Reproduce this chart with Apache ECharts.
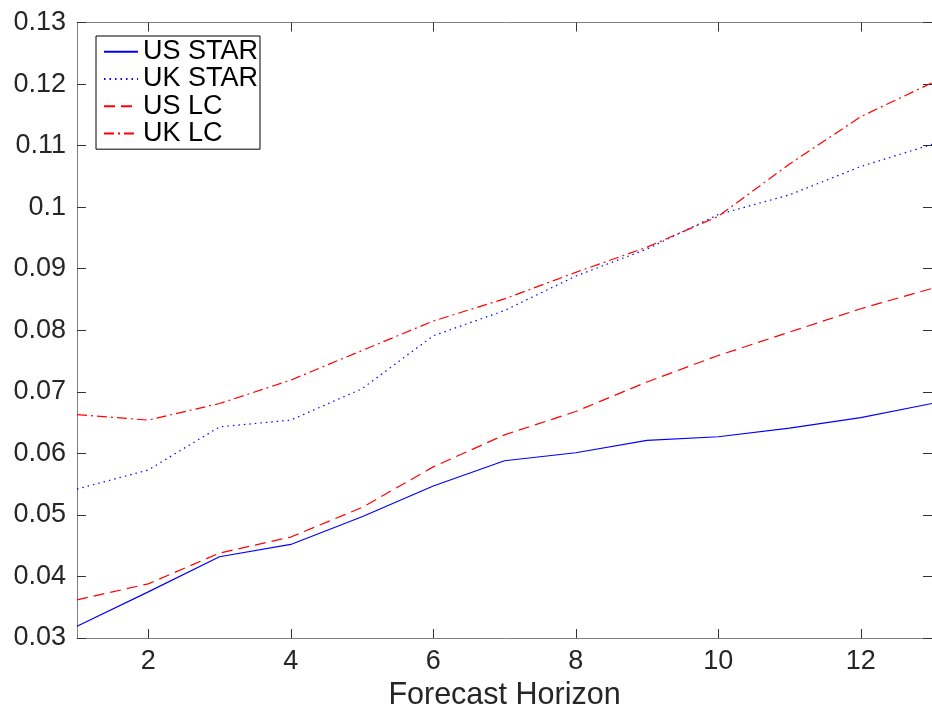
<!DOCTYPE html>
<html>
<head>
<meta charset="utf-8">
<script src="https://cdn.jsdelivr.net/npm/echarts@6/dist/echarts.min.js"></script>
<style>html,body{margin:0;padding:0;background:#fff}#chart{width:932px;height:716px}</style>
</head>
<body>
<div id="chart"></div>
<script>
const horizons = [1,2,3,4,5,6,7,8,9,10,11,12,13];
const usStar = [0.0319,0.0375,0.0432,0.0452,0.0497,0.0547,0.0588,0.0601,0.0621,0.0627,0.0641,0.0658,0.0681];
const ukStar = [0.0542,0.0573,0.0643,0.0654,0.0705,0.0791,0.0832,0.0888,0.0932,0.0988,0.1020,0.1066,0.1102];
const usLC   = [0.0362,0.0388,0.0438,0.0464,0.0512,0.0578,0.0630,0.0668,0.0716,0.0759,0.0797,0.0835,0.0868];
const ukLC   = [0.0663,0.0654,0.0681,0.0719,0.0767,0.0815,0.0851,0.0894,0.0935,0.0985,0.1070,0.1147,0.1202];
const xTicks = [2,4,6,8,10,12];
const seriesNames = ['US STAR','UK STAR','US LC','UK LC'];
const xTitle = 'Forecast Horizon';

const FONT = '"Liberation Sans", Arial, Helvetica, sans-serif';
const pair = a => horizons.map((h,i)=>[h,a[i]]);
const chart = echarts.init(document.getElementById('chart'), null, {renderer:'canvas'});
const axisLine = {show:true, lineStyle:{color:'#808080', width:1}};
const tick = {show:true, inside:true, length:9, lineStyle:{color:'#333', width:1}};
const mkSeries = (name, data, color, type, width) => ({
  name, type:'line', data:pair(data), symbol:'none', xAxisIndex:0, yAxisIndex:0,
  lineStyle:{color, width, type}, itemStyle:{color}, animation:false
});
chart.setOption({
  animation:false,
  backgroundColor:'#fff',
  grid:{left:77, top:22.5, right:-6, bottom:73.5, containLabel:false},
  legend:{
    show:true, orient:'vertical', left:96, top:36,
    padding:[2,2,2,7], itemGap:0, itemWidth:34, itemHeight:14,
    borderColor:'#000', borderWidth:1, backgroundColor:'#fff',
    itemStyle:{color:'rgba(0,0,0,0)', borderWidth:0, opacity:0},
    textStyle:{fontFamily:FONT, fontSize:27, color:'#000', lineHeight:27.3},
    data:seriesNames
  },
  xAxis:[
    {type:'value', min:1, max:13, position:'bottom',
     name:xTitle, nameLocation:'middle', nameGap:42,
     nameTextStyle:{fontFamily:FONT, fontSize:30.5, color:'#262626'},
     axisLine, axisTick:Object.assign({customValues:xTicks}, tick),
     axisLabel:{customValues:xTicks, fontFamily:FONT, fontSize:27, color:'#262626', margin:10},
     splitLine:{show:false}},
    {type:'value', min:1, max:13, position:'top',
     axisLine, axisTick:Object.assign({customValues:xTicks}, tick),
     axisLabel:{show:false}, splitLine:{show:false}}
  ],
  yAxis:[
    {type:'value', min:0.03, max:0.13, interval:0.01, position:'left',
     axisLine, axisTick:tick,
     axisLabel:{fontFamily:FONT, fontSize:27, color:'#262626', margin:11,
       formatter:v=>String(+v.toFixed(2))},
     splitLine:{show:false}},
    {type:'value', min:0.03, max:0.13, interval:0.01, position:'right',
     axisLine, axisTick:tick, axisLabel:{show:false}, splitLine:{show:false}}
  ],
  series:[
    mkSeries(seriesNames[0], usStar, '#0000ff', 'solid', 1.2),
    mkSeries(seriesNames[1], ukStar, '#0000ff', [1.5,4], 1.2),
    mkSeries(seriesNames[2], usLC, '#ff0000', [11,6], 1.2),
    mkSeries(seriesNames[3], ukLC, '#ff0000', [10,4,2,4], 1.2)
  ]
});
</script>
</body>
</html>
